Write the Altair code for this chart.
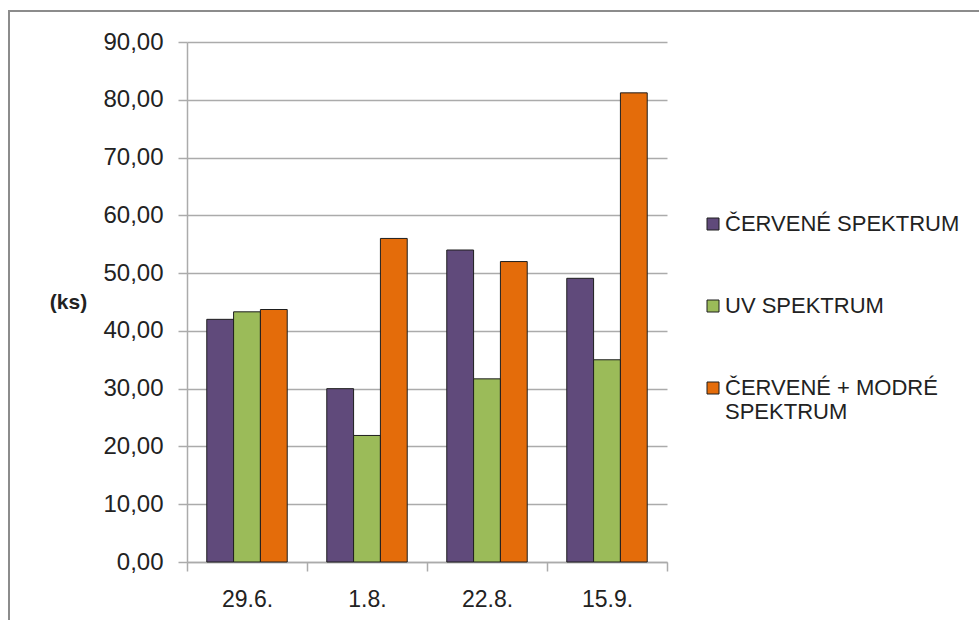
import altair as alt
import pandas as pd

# Sampling dates (x categories) and the three light-spectrum series
dates = ["29.6.", "1.8.", "22.8.", "15.9."]
series = ["ČERVENÉ SPEKTRUM", "UV SPEKTRUM", "ČERVENÉ + MODRÉ SPEKTRUM"]
cervene = [42.0, 30.0, 54.0, 49.1]
uv = [43.3, 21.9, 31.7, 35.0]
cervene_modre = [43.7, 56.0, 52.0, 81.2]
colors = ["#604A7B", "#9BBB59", "#E46C0A"]
y_ticks = [0, 10, 20, 30, 40, 50, 60, 70, 80, 90]

rows = []
for name, vals in zip(series, [cervene, uv, cervene_modre]):
    for d, v in zip(dates, vals):
        rows.append({"datum": d, "rada": name, "ks": v})
df = pd.DataFrame(rows)

FONT = "Liberation Sans"
TEXT = "#222222"
GRID = "#ababab"

bars = alt.Chart(df).mark_bar(stroke="#1e1e1e", strokeWidth=1).encode(
    x=alt.X(
        "datum:N",
        sort=dates,
        title=None,
        scale=alt.Scale(paddingInner=0, paddingOuter=0),
        axis=alt.Axis(
            tickBand="extent",
            tickSize=9,
            tickColor=GRID,
            tickWidth=1.5,
            domainColor=GRID,
            domainWidth=1.5,
            labelFontSize=23,
            labelFont=FONT,
            labelColor=TEXT,
            labelPadding=17,
            labelAngle=0,
            grid=False,
        ),
    ),
    xOffset=alt.XOffset(
        "rada:N", sort=series, scale=alt.Scale(paddingInner=0, paddingOuter=0.737)
    ),
    y=alt.Y(
        "ks:Q",
        scale=alt.Scale(domain=[0, 90], nice=False),
        axis=alt.Axis(
            values=y_ticks,
            labelExpr="replace(format(datum.value, '.2f'), '.', ',')",
            tickSize=9,
            tickColor=GRID,
            tickWidth=1.5,
            domainColor=GRID,
            domainWidth=1.5,
            gridColor=GRID,
            gridWidth=1.5,
            labelFontSize=24,
            labelFont=FONT,
            labelColor=TEXT,
            labelPadding=15,
            title="(ks)",
            titleFont=FONT,
            titleFontSize=21,
            titleFontWeight="bold",
            titleColor=TEXT,
            titleAngle=0,
            titleAlign="center",
            titleBaseline="middle",
            titleX=-119,
            titleY=260,
        ),
    ),
    color=alt.Color(
        "rada:N",
        sort=series,
        scale=alt.Scale(domain=series, range=colors),
        legend=alt.Legend(
            title=None,
            orient="none",
            legendX=515,
            legendY=171,
            symbolType="square",
            symbolSize=144,
            symbolStrokeColor="#1e1e1e",
            symbolStrokeWidth=1,
            labelFont=FONT,
            labelFontSize=22,
            labelColor=TEXT,
            labelOffset=1,
            labelLimit=300,
            rowPadding=60,
            labelExpr="datum.label == 'ČERVENÉ + MODRÉ SPEKTRUM' ? ['ČERVENÉ + MODRÉ', 'SPEKTRUM'] : datum.label",
        ),
    ),
)

# Outer chart frame
frame = alt.Chart(pd.DataFrame({"k": [0]})).mark_rect(
    filled=False, stroke="#8c8c8c", strokeWidth=2
).encode(
    x=alt.value(-178), x2=alt.value(820), y=alt.value(-31), y2=alt.value(640)
)

chart = (
    alt.layer(frame, bars)
    .properties(
        width=480,
        height=520,
        autosize=alt.AutoSizeParams(type="none"),
        padding={"left": 187, "top": 42, "right": 312, "bottom": 58},
        background="white",
    )
    .configure_view(strokeWidth=0)
)

chart.save("out.html", embed_options={"renderer": "svg", "actions": False})
